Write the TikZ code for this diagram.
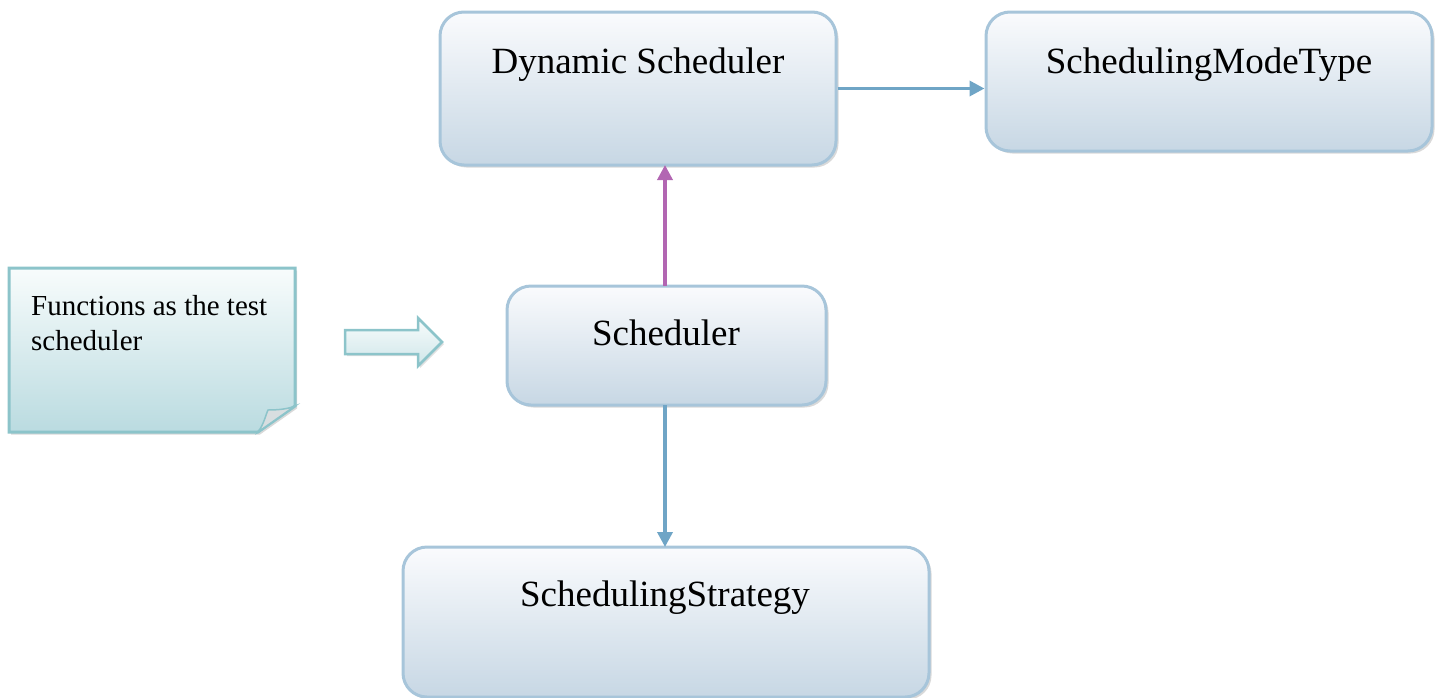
\documentclass[tikz,border=0pt]{standalone}
\usepackage{fontspec}
\setmainfont{Liberation Serif}
\usetikzlibrary{arrows.meta,shadows,calc}

\definecolor{boxline}{RGB}{167,197,218}
\definecolor{boxtop}{RGB}{250,251,253}
\definecolor{boxbot}{RGB}{199,215,228}
\definecolor{linkblue}{RGB}{111,165,198}
\definecolor{linkpurple}{RGB}{178,102,178}
\definecolor{noteline}{RGB}{140,196,202}
\definecolor{notetop}{RGB}{248,252,252}
\definecolor{notebot}{RGB}{186,219,224}
\definecolor{curl}{RGB}{216,222,224}

\tikzset{
  classbox/.style={draw=boxline, line width=3pt, rounded corners=24pt,
    top color=boxtop, bottom color=boxbot,
    drop shadow={shadow xshift=2.5pt, shadow yshift=-2.5pt, opacity=0.25, fill=black!60},
    inner sep=0pt},
  boxlabel/.style={anchor=base, inner sep=0pt, font=\fontsize{37}{40}\selectfont},
  notelabel/.style={anchor=north west, inner sep=0pt, align=left,
    font=\fontsize{29}{35}\selectfont},
  link/.style={line width=3.5pt, draw=linkblue,
    -{Triangle[length=15pt,width=15pt,fill=linkblue]}},
  plink/.style={line width=3.5pt, draw=linkpurple,
    -{Triangle[length=15pt,width=15pt,fill=linkpurple]}},
}

\begin{document}
\begin{tikzpicture}[x=1pt,y=-1pt]
  \useasboundingbox (0,0) rectangle (1443,697);

  % class boxes
  \node[classbox, minimum width=396pt, minimum height=153pt] (ds)  at (638,88.5) {};
  \node[classbox, minimum width=446pt, minimum height=139pt] (smt) at (1209,81.5) {};
  \node[classbox, minimum width=319pt, minimum height=119pt] (sch) at (666.5,345.5) {};
  \node[classbox, minimum width=526pt, minimum height=150pt] (ss)  at (666,622) {};

  \node[boxlabel] (dst)  at (638,73)  {Dynamic Scheduler};
  \node[boxlabel] (smtt) at (1209,73) {SchedulingModeType};
  \node[boxlabel] (scht) at (666,345) {Scheduler};
  \node[boxlabel] (sst)  at (665,606) {SchedulingStrategy};

  % connectors
  \draw[link]  (ds.east) -- (ds.east -| smt.west);
  \draw[plink] (665,286) -- (665,165);
  \draw[link]  (665,405) -- (665,547);

  % sticky note with a curled corner
  \path[draw=noteline, line width=3pt, top color=notetop, bottom color=notebot,
        drop shadow={shadow xshift=2pt, shadow yshift=-2.5pt, opacity=0.25, fill=black!60}]
    (9,268) -- (295,268) -- (295,406) -- (258,432) -- (9,432) -- cycle;
  \path[draw=noteline, line width=1.5pt, fill=curl]
    (258,432) .. controls (264,424) and (266,414) .. (268,410)
    .. controls (278,410) and (288,409) .. (295,406) -- cycle;
  \node[notelabel] (note) at (31,295) {Functions as the test\\scheduler};

  % block arrow pointing at the scheduler
  \path[draw=noteline, line width=2.5pt, top color=notetop, bottom color=notebot!70!white,
        drop shadow={shadow xshift=2pt, shadow yshift=-2pt, opacity=0.2, fill=black!60}]
    (345,330) -- (418,330) -- (418,318) -- (442,342) -- (418,366) -- (418,354)
    -- (345,354) -- cycle;
\end{tikzpicture}
\end{document}
